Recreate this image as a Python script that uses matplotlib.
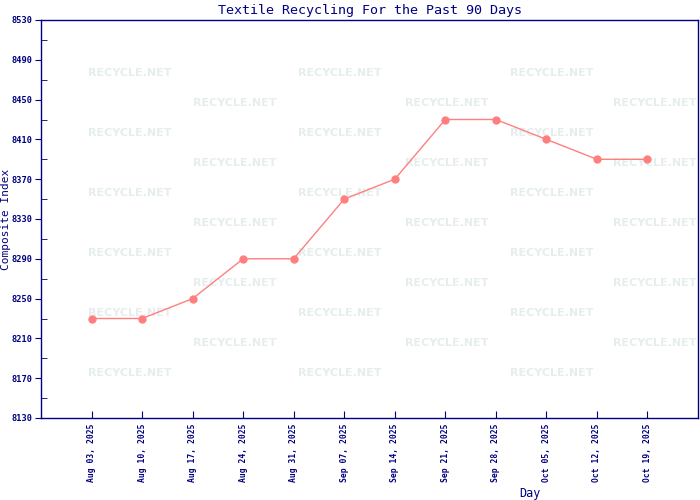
import matplotlib
matplotlib.use('agg')
import matplotlib.pyplot as plt

days = ['Aug 03, 2025', 'Aug 10, 2025', 'Aug 17, 2025', 'Aug 24, 2025',
        'Aug 31, 2025', 'Sep 07, 2025', 'Sep 14, 2025', 'Sep 21, 2025',
        'Sep 28, 2025', 'Oct 05, 2025', 'Oct 12, 2025', 'Oct 19, 2025']
index = [8230, 8230, 8250, 8290, 8290, 8350, 8370, 8430, 8430, 8410, 8390, 8390]

navy = '#000080'
mono = 'DejaVu Sans Mono'

fig = plt.figure(figsize=(7, 5), dpi=100)
ax = fig.add_axes([41/700, 82/500, 657/700, 398/500])

# watermark grid
for r in range(11):
  yy = 1 - (73 - 20 + r*30) / 398
  cols = [130, 340, 552] if r % 2 == 0 else [235, 447, 655]
  for cx in cols:
    ax.text((cx - 41) / 657, yy, 'RECYCLE.NET', transform=ax.transAxes,
            ha='center', va='center', fontsize=8, fontweight='bold',
            family='DejaVu Sans', color='#e6eded', zorder=0)

x = range(len(days))
ax.plot(x, index, color='#ff7f7f', lw=1, marker='o', ms=5, zorder=3)

ax.set_xlim(-1, 12)
ax.set_ylim(8130, 8530)
ax.set_xticks(list(x))
ax.set_xticklabels(days, rotation=90, fontsize=5.8, family=mono, color=navy, fontweight='bold')
ax.set_yticks(range(8130, 8531, 40))
ax.set_yticks(range(8150, 8531, 40), minor=True)
for lab in ax.get_yticklabels():
  lab.set_family(mono)
  lab.set_fontweight('bold')
ax.tick_params(axis='y', which='major', labelsize=6.2, colors=navy, direction='out', length=4, pad=2)
ax.tick_params(axis='y', which='minor', colors=navy, direction='in', length=4)
ax.tick_params(axis='x', colors=navy, direction='in', length=5, pad=4)
for s in ax.spines.values():
  s.set_color(navy)
  s.set_linewidth(1)

ax.set_title('Textile Recycling For the Past 90 Days', fontsize=9.6, family=mono, color=navy, pad=4)
ax.set_ylabel('Composite Index', fontsize=8, family=mono, color=navy)
ax.yaxis.set_label_coords(-0.045, 0.5)
fig.text(530/700, 1 - 494/500, 'Day', ha='center', va='center', fontsize=8.5, family=mono, color=navy)

fig.savefig('out.png', dpi=100)
